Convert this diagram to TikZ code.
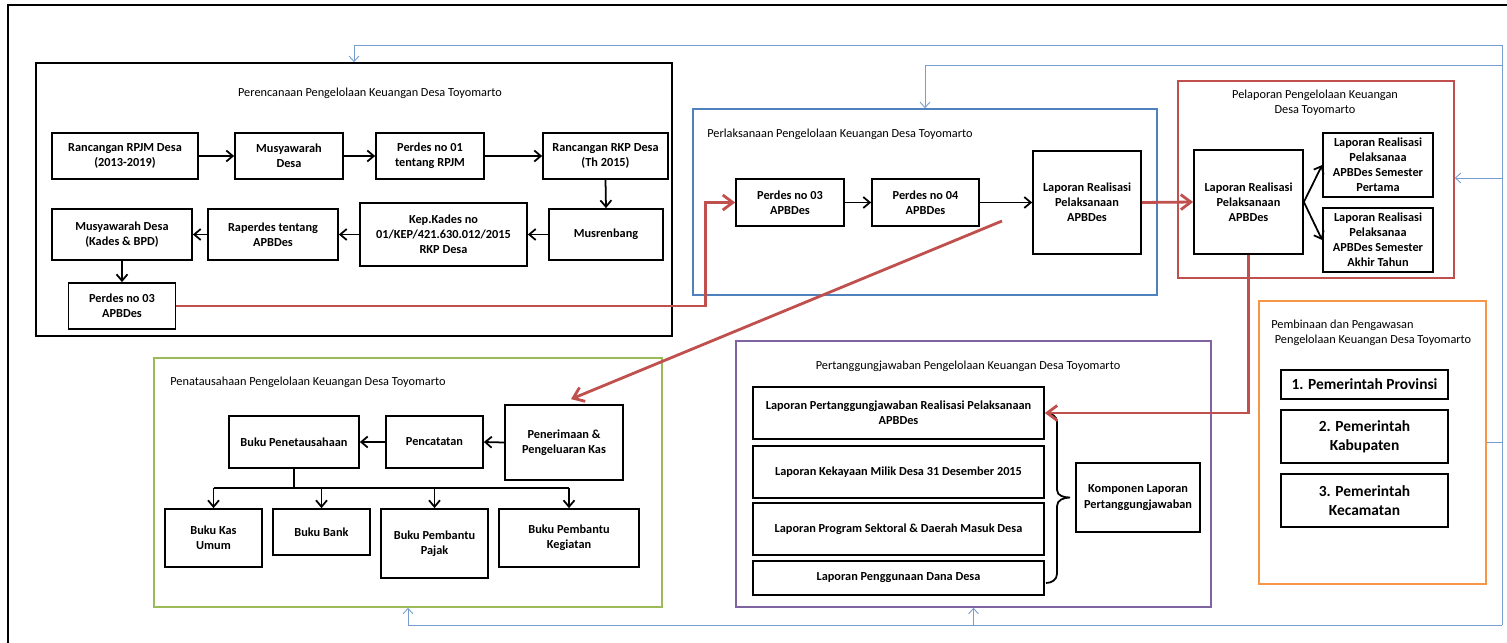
\documentclass[tikz,border=0pt]{standalone}
\usepackage{fontspec}
\setmainfont{Carlito}
\usepackage{tikz}
\usetikzlibrary{arrows.meta, positioning, calc}

\definecolor{frameblue}{RGB}{79,129,189}
\definecolor{linkblue}{RGB}{120,157,208}
\definecolor{framered}{RGB}{192,80,77}
\definecolor{framegreen}{RGB}{155,187,89}
\definecolor{framepurple}{RGB}{128,100,162}
\definecolor{frameorange}{RGB}{247,150,70}

\begin{document}
\begin{tikzpicture}[
  x=0.02cm, y=-0.02cm,
  box/.style={rectangle, draw=black, line width=1pt, align=center,
             inner sep=2pt, font=\fontsize{7}{8.6}\selectfont\bfseries},
  govbox/.style={box, minimum width=3.34cm, font=\fontsize{8.8}{10.8}\selectfont\bfseries},
  group/.style={rectangle, draw, line width=0.9pt},
  grouptitle/.style={font=\fontsize{7}{8.6}\selectfont, align=center, inner sep=0pt},
  arrow/.style={-{Straight Barb[length=1.3mm,width=2.2mm]}, line width=1pt},
  redarrow/.style={-{Straight Barb[length=2mm,width=3mm]}, line width=1.6pt, color=framered},
  feedback/.style={-{Straight Barb[length=1.1mm,width=2mm]}, line width=0.5pt, color=linkblue}
]
\useasboundingbox (0,0) rectangle (1507,642);

\draw[line width=1pt] (8,700) -- (8,5) -- (1560,5);

% group frames
\node[group, draw=black, line width=1pt, minimum width=12.72cm, minimum height=5.46cm] (plan) at (354,199.5) {};
\node[group, draw=frameblue, minimum width=9.28cm, minimum height=3.72cm] (exec) at (925,202) {};
\node[group, draw=framered, minimum width=5.52cm, minimum height=3.94cm] (report) at (1316,179.5) {};
\node[group, draw=framegreen, minimum width=10.16cm, minimum height=4.98cm] (admin) at (408,482.5) {};
\node[group, draw=framepurple, minimum width=9.5cm, minimum height=5.32cm] (account) at (973.5,474) {};
\node[group, draw=frameorange, minimum width=4.54cm, minimum height=5.66cm] (supervise) at (1372.5,442.5) {};

\node[grouptitle] (plantitle) at (370,93) {Perencanaan Pengelolaan Keuangan Desa Toyomarto};
\node[grouptitle, anchor=west] (exectitle) at (707,134) {Perlaksanaan Pengelolaan Keuangan Desa Toyomarto};
\node[grouptitle] (reporttitle) at (1315,102.5) {Pelaporan Pengelolaan Keuangan\\Desa Toyomarto};
\node[grouptitle, anchor=west] (admintitle) at (170,382) {Penatausahaan Pengelolaan Keuangan Desa Toyomarto};
\node[grouptitle] (accounttitle) at (968,366) {Pertanggungjawaban Pengelolaan Keuangan Desa Toyomarto};
\node[grouptitle, anchor=west, align=left] (supervisetitle) at (1271,333) {Pembinaan dan Pengawasan\\\hspace{2pt}Pengelolaan Keuangan Desa Toyomarto};

% perencanaan
\node[box, minimum width=2.92cm, minimum height=0.92cm] (rpjm) at (125,156) {Rancangan RPJM Desa\\(2013-2019)};
\node[box, minimum width=2.16cm, minimum height=0.92cm] (musdes) at (289,156) {Musyawarah\\Desa};
\node[box, minimum width=2.16cm, minimum height=0.92cm] (perdesA) at (430,156) {Perdes no 01\\tentang RPJM};
\node[box, minimum width=2.5cm, minimum height=0.92cm] (rkp) at (605.5,156) {Rancangan RKP Desa\\(Th 2015)};
\node[box, minimum width=2.28cm, minimum height=1.02cm] (musrenbang) at (606,234.5) {Musrenbang};
\node[box, minimum width=3.34cm, minimum height=1.26cm] (kepkades) at (443.5,234.5) {Kep.Kades no\\01/KEP/421.630.012/2015\\RKP Desa};
\node[box, minimum width=2.6cm, minimum height=1.02cm] (raperdes) at (273,234.5) {Raperdes tentang\\APBDes};
\node[box, minimum width=2.8cm, minimum height=1.02cm] (musbpd) at (122,234.5) {Musyawarah Desa\\(Kades \& BPD)};
\node[box, minimum width=2.14cm, minimum height=0.92cm] (perdesB) at (122,306) {Perdes no 03\\APBDes};

% perlaksanaan
\node[box, minimum width=2.16cm, minimum height=0.94cm] (perdesC) at (790,202.5) {Perdes no 03\\APBDes};
\node[box, minimum width=2.14cm, minimum height=0.94cm] (perdesD) at (925.5,202.5) {Perdes no 04\\APBDes};
\node[box, minimum width=2.16cm, minimum height=2.06cm] (lapreal) at (1087,202.5) {Laporan Realisasi\\Pelaksanaan\\APBDes};

% pelaporan
\node[box, minimum width=2.18cm, minimum height=2.08cm] (laprealB) at (1248.5,202) {Laporan Realisasi\\Pelaksanaan\\APBDes};
\node[box, minimum width=2.2cm, minimum height=1.28cm, inner sep=1pt] (semA) at (1378,165) {Laporan Realisasi\\Pelaksanaa\\APBDes Semester\\Pertama};
\node[box, minimum width=2.2cm, minimum height=1.28cm, inner sep=1pt] (semB) at (1378,240) {Laporan Realisasi\\Pelaksanaa\\APBDes Semester\\Akhir Tahun};

% penatausahaan
\node[box, minimum width=2.6cm, minimum height=1.04cm] (bukupen) at (294,442) {Buku Penetausahaan};
\node[box, minimum width=1.94cm, minimum height=1.04cm] (pencatatan) at (434.5,442) {Pencatatan};
\node[box, minimum width=2.36cm, minimum height=1.5cm] (penerimaan) at (564,442.5) {Penerimaan \&\\Pengeluaran Kas};
\node[box, minimum width=1.94cm, minimum height=1.16cm] (bku) at (213.5,538) {Buku Kas\\Umum};
\node[box, minimum width=1.94cm, minimum height=0.92cm] (bank) at (321.5,532) {Buku Bank};
\node[box, minimum width=2.14cm, minimum height=1.38cm] (pajak) at (434.5,543.5) {Buku Pembantu\\Pajak};
\node[box, minimum width=2.8cm, minimum height=1.16cm] (kegiatan) at (569,538) {Buku Pembantu\\Kegiatan};

% pertanggungjawaban
\node[box, minimum width=5.82cm, minimum height=1.04cm] (lpjA) at (898.5,413) {Laporan Pertanggungjawaban Realisasi Pelaksanaan\\APBDes};
\node[box, minimum width=5.82cm, minimum height=1.04cm] (lpjB) at (898.5,472) {Laporan Kekayaan Milik Desa 31 Desember 2015};
\node[box, minimum width=5.82cm, minimum height=1.04cm] (lpjC) at (898.5,529) {Laporan Program Sektoral \& Daerah Masuk Desa};
\node[box, minimum width=5.82cm, minimum height=0.68cm] (lpjD) at (898.5,578) {Laporan Penggunaan Dana Desa};
\node[box, minimum width=2.48cm, minimum height=1.38cm] (komponen) at (1138,497.5) {Komponen Laporan\\Pertanggungjawaban};

% pembinaan
\node[govbox, minimum height=0.58cm] (prov) at (1364.5,384.5) {1. Pemerintah Provinsi};
\node[govbox, minimum height=1.06cm] (kab) at (1364.5,436.5) {2. Pemerintah\\Kabupaten};
\node[govbox, minimum height=1.06cm] (kec) at (1364.5,500.5) {3. Pemerintah\\Kecamatan};

% black arrows
\draw[arrow] (rpjm.east) -- (musdes.west);
\draw[arrow] (musdes.east) -- (perdesA.west);
\draw[arrow] (perdesA.east) -- (rkp.west);
\draw[arrow] (rkp.south) -- (musrenbang.north);
\draw[arrow] (musrenbang.west) -- (kepkades.east);
\draw[arrow] (kepkades.west) -- (raperdes.east);
\draw[arrow] (raperdes.west) -- (musbpd.east);
\draw[arrow] (musbpd.south) -- (perdesB.north);
\draw[arrow] (perdesC.east) -- (perdesD.west);
\draw[arrow] (perdesD.east) -- (lapreal.west);
\draw[arrow] (laprealB.east) -- (semA.west);
\draw[arrow] (laprealB.east) -- (semB.west);
\draw[arrow] (penerimaan.west) -- (pencatatan.east);
\draw[arrow] (pencatatan.west) -- (bukupen.east);

\coordinate (split) at ($(bukupen.south)+(0,19)$);
\draw[line width=1pt] (bukupen.south) -- (split);
\draw[line width=1pt] (split -| bku.north) -- (split -| kegiatan.north);
\draw[arrow] (split -| bku.north) -- (bku.north);
\draw[arrow] (split -| bank.north) -- (bank.north);
\draw[arrow] (split -| pajak.north) -- (pajak.north);
\draw[arrow] (split -| kegiatan.north) -- (kegiatan.north);

\coordinate (bracetip) at ($(komponen.west)+(-5,0)$);
\draw[line width=1pt] (1046,413) to[out=0,in=90] (1057,422) -- (1057,490)
  to[out=-90,in=180] (bracetip) to[out=180,in=90] (1057,506)
  -- (1057,574) to[out=-90,in=0] (1046,583);

% red flow
\draw[redarrow] (perdesB.east) -| ($(perdesC.west)+(-30,0)$) -- (perdesC.west);
\coordinate (redstart) at (1002,221);
\draw[redarrow] (redstart) -- ($(penerimaan.north)+(7,-5)$);
\draw[redarrow] (lapreal.east) -- (laprealB.west);
\draw[redarrow] (laprealB.south) |- (lpjA.east);

% blue feedback
\coordinate (fbTop) at (1502,45);
\coordinate (fbMid) at (1502,65);
\coordinate (fbIn) at (1502,178);
\coordinate (fbBot) at (1502,625);
\draw[feedback] (fbTop) -| (plan.north);
\draw[feedback] (fbMid) -| (exec.north);
\draw[line width=0.5pt, linkblue] (fbTop) -- (fbBot);
\draw[feedback] (fbIn) -- (fbIn -| report.east);
\draw[line width=0.5pt, linkblue] (supervise.east) -- (supervise.east -| fbBot);
\draw[feedback] (fbBot) -| (admin.south);
\draw[feedback] (fbBot -| account.south) -- (account.south);

\end{tikzpicture}
\end{document}
